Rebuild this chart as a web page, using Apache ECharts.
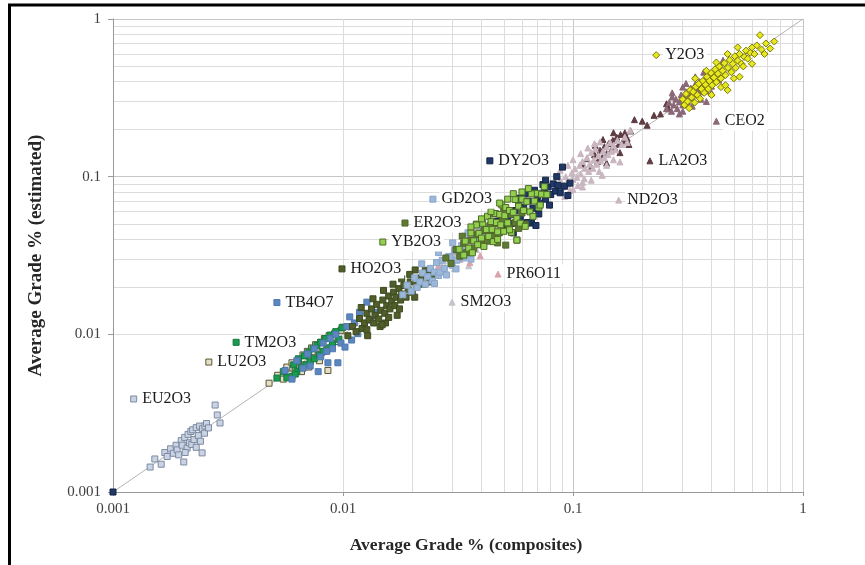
<!DOCTYPE html>
<html><head><meta charset="utf-8">
<script src="https://cdn.jsdelivr.net/npm/echarts@6/dist/echarts.min.js"></script>
<style>html,body{margin:0;padding:0;background:#fff}#c{width:865px;height:565px}</style>
</head><body><div id="c"></div>
<script>
const xTickLabels = ['0.001','0.01','0.1','1'];
const yTickLabels = ['0.001','0.01','0.1','1'];
const xTitle = 'Average Grade % (composites)';
const yTitle = 'Average Grade % (estimated)';

const seriesOrder = ['SM2O3','PR6O11','LA2O3','ND2O3','CEO2','Y2O3','EU2O3','LU2O3','TM2O3','TB4O7','HO2O3','GD2O3','DY2O3','ER2O3','YB2O3'];

const EU2O3 = [[0.00145,0.00144],[0.00152,0.00162],[0.00162,0.0015],[0.00168,0.00178],[0.00172,0.00168],[0.00178,0.00188],[0.00183,0.00176],[0.00188,0.00198],[0.0019,0.00185],[0.00193,0.00172],[0.00198,0.00212],[0.002,0.00198],[0.00203,0.00155],[0.00205,0.00222],[0.0021,0.0019],[0.00212,0.00232],[0.00215,0.00205],[0.00218,0.00242],[0.0022,0.002],[0.00222,0.00248],[0.00225,0.00215],[0.0023,0.00256],[0.0023,0.00192],[0.00235,0.00228],[0.00238,0.00262],[0.0024,0.0021],[0.00244,0.00177],[0.00245,0.00252],[0.0025,0.00236],[0.00251,0.00262],[0.00255,0.00272],[0.0026,0.00255],[0.00278,0.00356],[0.00284,0.00308],[0.00292,0.00274],[0.00206,0.00178]];
const LU2O3 = [[0.00477,0.0049],[0.0052,0.0055],[0.0055,0.0052],[0.0057,0.0062],[0.0059,0.0056],[0.006,0.0066],[0.0062,0.0059],[0.0064,0.0069],[0.0065,0.0062],[0.0067,0.0074],[0.0068,0.0064],[0.007,0.0078],[0.0072,0.0068],[0.0073,0.0082],[0.0075,0.0071],[0.0076,0.0086],[0.0078,0.0074],[0.008,0.0089],[0.0081,0.0077],[0.0083,0.0094],[0.0085,0.008],[0.0086,0.0059],[0.0087,0.0098],[0.009,0.0086],[0.0092,0.0101],[0.0095,0.009],[0.0098,0.0106],[0.01,0.0111],[0.0066,0.0058],[0.0071,0.0062],[0.0079,0.0068]];
const TM2O3 = [[0.00516,0.00528],[0.0057,0.0053],[0.0055,0.0058],[0.006,0.0054],[0.0061,0.0064],[0.0063,0.0058],[0.0064,0.007],[0.0066,0.0062],[0.0068,0.0073],[0.0069,0.0064],[0.0071,0.0077],[0.0072,0.0067],[0.0074,0.0081],[0.0075,0.007],[0.0077,0.0085],[0.0079,0.0074],[0.008,0.0089],[0.0082,0.0078],[0.0084,0.0094],[0.0086,0.0082],[0.0088,0.0099],[0.009,0.0087],[0.0093,0.0104],[0.0096,0.0093],[0.0062,0.0056],[0.0099,0.011]];
const TB4O7 = [[0.0056,0.0059],[0.006,0.0052],[0.0063,0.0068],[0.0067,0.0061],[0.007,0.0075],[0.0072,0.0063],[0.0075,0.0081],[0.0078,0.0058],[0.008,0.0072],[0.0082,0.0088],[0.0085,0.0078],[0.0086,0.0066],[0.0088,0.0094],[0.009,0.0081],[0.0093,0.01],[0.0095,0.0066],[0.0098,0.0088],[0.0102,0.0083],[0.0104,0.0112],[0.0107,0.0129],[0.0109,0.0092],[0.0112,0.0118],[0.0116,0.0101],[0.0127,0.016],[0.0132,0.0123],[0.0138,0.0138],[0.0118,0.0138]];
const HO2O3 = [[0.0105,0.0098],[0.011,0.0112],[0.0114,0.0104],[0.0118,0.0126],[0.0121,0.0109],[0.0124,0.0118],[0.0127,0.0136],[0.0127,0.0107],[0.013,0.0124],[0.0133,0.0145],[0.0136,0.0118],[0.0138,0.0132],[0.014,0.0155],[0.0143,0.0125],[0.0146,0.0142],[0.0149,0.0165],[0.0152,0.0136],[0.0153,0.0118],[0.0155,0.0152],[0.0158,0.0175],[0.016,0.0145],[0.0163,0.0162],[0.0166,0.0185],[0.0168,0.0152],[0.017,0.0172],[0.0172,0.0132],[0.0175,0.0195],[0.0178,0.0165],[0.018,0.018],[0.0184,0.0204],[0.0188,0.0172],[0.0192,0.0192],[0.0196,0.0215],[0.02,0.0185],[0.0206,0.0256],[0.021,0.0205],[0.0218,0.0228],[0.0225,0.0208],[0.0239,0.0215],[0.0245,0.0236],[0.0158,0.0128],[0.0145,0.0112],[0.012,0.0148],[0.0135,0.0168],[0.015,0.019],[0.0165,0.0208],[0.018,0.0225],[0.0195,0.024],[0.0128,0.0098],[0.0148,0.0115],[0.0176,0.0145],[0.0205,0.0172],[0.0228,0.0255]];
const GD2O3 = [[0.0182,0.0178],[0.019,0.0205],[0.0198,0.0188],[0.0205,0.0228],[0.021,0.0198],[0.0216,0.0215],[0.0222,0.0245],[0.0228,0.0208],[0.0234,0.0232],[0.024,0.0262],[0.0245,0.0218],[0.025,0.0248],[0.0255,0.0285],[0.026,0.0236],[0.0264,0.0248],[0.027,0.0295],[0.0276,0.0262],[0.0282,0.0238],[0.0288,0.0312],[0.0292,0.0309],[0.0298,0.0275],[0.0305,0.034],[0.0312,0.0295],[0.032,0.0328],[0.0328,0.0365],[0.0335,0.0305],[0.0345,0.0352],[0.0355,0.0398],[0.0365,0.0338],[0.0378,0.0412],[0.0394,0.0479],[0.0405,0.0445],[0.042,0.0465],[0.0438,0.0425],[0.022,0.028],[0.026,0.033],[0.03,0.038],[0.034,0.044],[0.025,0.021],[0.031,0.026],[0.036,0.03]];
const SM2O3 = [[0.0205,0.0198],[0.0218,0.0232],[0.023,0.0212],[0.0242,0.0255],[0.0255,0.0238],[0.0265,0.0282],[0.0275,0.0252],[0.0288,0.0305],[0.0298,0.0275],[0.031,0.0322],[0.0322,0.0298],[0.0335,0.0355],[0.0348,0.0318],[0.0352,0.0272],[0.0365,0.0378],[0.038,0.0345],[0.0395,0.0412],[0.041,0.0385],[0.043,0.0445],[0.0305,0.0262]];
const PR6O11 = [[0.026,0.0272],[0.0272,0.0258],[0.0285,0.031],[0.0298,0.0285],[0.031,0.0335],[0.0322,0.0302],[0.0335,0.0362],[0.0348,0.0325],[0.036,0.0392],[0.0372,0.0348],[0.0385,0.0418],[0.0398,0.037],[0.041,0.0445],[0.0425,0.0398],[0.044,0.0472],[0.0455,0.0425],[0.047,0.0495],[0.0356,0.0285],[0.0395,0.0315],[0.0392,0.0478],[0.0375,0.0455]];
const ER2O3 = [[0.028,0.0305],[0.0295,0.0282],[0.031,0.0345],[0.0322,0.0313],[0.0335,0.0378],[0.0345,0.033],[0.0358,0.0395],[0.037,0.0352],[0.0382,0.0428],[0.0395,0.0372],[0.041,0.0455],[0.0422,0.039],[0.0435,0.0488],[0.0448,0.0418],[0.046,0.0505],[0.0478,0.044],[0.0495,0.0535],[0.051,0.0368],[0.0525,0.0478],[0.054,0.0575],[0.056,0.051],[0.0571,0.0396],[0.06,0.0588],[0.033,0.042],[0.038,0.05],[0.045,0.058],[0.05,0.063],[0.058,0.047],[0.062,0.05],[0.047,0.038]];
const YB2O3 = [[0.032,0.0346],[0.0335,0.0318],[0.034,0.039],[0.0352,0.0352],[0.036,0.044],[0.0365,0.0329],[0.037,0.0392],[0.038,0.0494],[0.0385,0.037],[0.039,0.0437],[0.04,0.0408],[0.0405,0.0506],[0.041,0.0361],[0.042,0.0462],[0.0425,0.0561],[0.043,0.0417],[0.044,0.0519],[0.0445,0.0463],[0.045,0.0387],[0.046,0.0584],[0.0465,0.0512],[0.047,0.0447],[0.048,0.0576],[0.0485,0.0495],[0.049,0.0662],[0.05,0.045],[0.0505,0.0566],[0.051,0.0638],[0.052,0.051],[0.053,0.061],[0.054,0.0443],[0.055,0.0594],[0.056,0.0717],[0.057,0.0542],[0.058,0.065],[0.059,0.0507],[0.06,0.072],[0.061,0.061],[0.062,0.0484],[0.063,0.0693],[0.065,0.0598],[0.066,0.0779],[0.068,0.07],[0.07,0.0784],[0.071,0.0639],[0.073,0.0774],[0.075,0.0863],[0.077,0.077],[0.057,0.0396],[0.036,0.048],[0.04,0.054],[0.044,0.06],[0.048,0.068],[0.052,0.072],[0.055,0.078],[0.06,0.08],[0.064,0.084],[0.047,0.04],[0.053,0.046],[0.067,0.056],[0.072,0.066]];
const DY2O3 = [[0.001,0.001],[0.044,0.046],[0.047,0.052],[0.05,0.0475],[0.052,0.056],[0.054,0.0505],[0.056,0.061],[0.058,0.066],[0.059,0.0545],[0.061,0.064],[0.063,0.051],[0.064,0.07],[0.066,0.0508],[0.067,0.063],[0.069,0.049],[0.07,0.075],[0.072,0.068],[0.074,0.089],[0.075,0.08],[0.076,0.072],[0.078,0.086],[0.08,0.077],[0.082,0.09],[0.084,0.081],[0.086,0.088],[0.088,0.079],[0.09,0.115],[0.092,0.087],[0.095,0.076],[0.097,0.091],[0.064,0.0512],[0.055,0.044],[0.062,0.078],[0.068,0.082],[0.076,0.095],[0.085,0.1],[0.079,0.066],[0.071,0.058],[0.058,0.073]];
const ND2O3 = [[0.085,0.083],[0.088,0.095],[0.09,0.086],[0.093,0.1],[0.095,0.09],[0.097,0.082],[0.099,0.106],[0.1,0.096],[0.102,0.112],[0.104,0.099],[0.105,0.088],[0.107,0.118],[0.108,0.104],[0.11,0.125],[0.112,0.097],[0.113,0.113],[0.115,0.132],[0.117,0.108],[0.118,0.12],[0.12,0.142],[0.122,0.113],[0.123,0.128],[0.125,0.15],[0.127,0.12],[0.129,0.136],[0.131,0.166],[0.132,0.126],[0.134,0.102],[0.135,0.145],[0.137,0.132],[0.14,0.155],[0.142,0.138],[0.145,0.165],[0.147,0.145],[0.15,0.158],[0.153,0.148],[0.156,0.17],[0.16,0.124],[0.163,0.16],[0.168,0.178],[0.172,0.165],[0.177,0.197],[0.11,0.092],[0.088,0.11],[0.095,0.118],[0.1,0.128],[0.108,0.14],[0.116,0.152],[0.124,0.162],[0.1,0.083],[0.11,0.086],[0.12,0.095],[0.13,0.108],[0.14,0.118],[0.092,0.075],[0.15,0.128]];
const LA2O3 = [[0.11,0.12],[0.115,0.13],[0.12,0.115],[0.124,0.138],[0.128,0.125],[0.131,0.147],[0.134,0.132],[0.137,0.155],[0.14,0.14],[0.143,0.162],[0.146,0.146],[0.149,0.17],[0.152,0.152],[0.155,0.178],[0.158,0.16],[0.161,0.185],[0.165,0.168],[0.168,0.19],[0.172,0.175],[0.178,0.195],[0.185,0.23],[0.21,0.212],[0.225,0.245],[0.24,0.25],[0.255,0.29],[0.26,0.27],[0.2,0.225],[0.125,0.158],[0.135,0.172],[0.15,0.19],[0.14,0.122],[0.16,0.142],[0.175,0.16]];
const CEO2 = [[0.255,0.27],[0.262,0.295],[0.268,0.26],[0.274,0.285],[0.28,0.31],[0.284,0.27],[0.29,0.298],[0.295,0.33],[0.3,0.285],[0.305,0.318],[0.31,0.345],[0.315,0.3],[0.32,0.33],[0.325,0.365],[0.33,0.315],[0.335,0.348],[0.34,0.385],[0.345,0.33],[0.35,0.362],[0.355,0.4],[0.36,0.345],[0.367,0.38],[0.375,0.42],[0.38,0.35],[0.385,0.4],[0.39,0.44],[0.4,0.375],[0.41,0.42],[0.42,0.47],[0.43,0.41],[0.449,0.548],[0.44,0.5],[0.29,0.25],[0.38,0.3],[0.27,0.32],[0.3,0.37],[0.27,0.34],[0.31,0.39],[0.34,0.43],[0.37,0.46],[0.33,0.28],[0.36,0.31],[0.4,0.34],[0.3,0.26]];
const Y2O3 = [[0.3,0.31],[0.305,0.285],[0.31,0.335],[0.315,0.3],[0.32,0.272],[0.323,0.354],[0.328,0.318],[0.333,0.345],[0.338,0.295],[0.342,0.372],[0.347,0.33],[0.352,0.388],[0.357,0.312],[0.362,0.36],[0.367,0.405],[0.372,0.34],[0.377,0.383],[0.382,0.43],[0.387,0.36],[0.392,0.405],[0.398,0.455],[0.403,0.38],[0.41,0.425],[0.415,0.48],[0.42,0.398],[0.427,0.45],[0.433,0.5],[0.44,0.42],[0.447,0.47],[0.455,0.525],[0.46,0.44],[0.47,0.354],[0.472,0.49],[0.48,0.55],[0.488,0.46],[0.495,0.52],[0.505,0.58],[0.51,0.49],[0.52,0.545],[0.53,0.6],[0.54,0.52],[0.55,0.5],[0.555,0.575],[0.565,0.63],[0.575,0.56],[0.59,0.61],[0.6,0.66],[0.615,0.6],[0.63,0.68],[0.65,0.79],[0.66,0.64],[0.69,0.7],[0.72,0.65],[0.53,0.43],[0.44,0.37],[0.34,0.42],[0.38,0.47],[0.42,0.53],[0.47,0.6],[0.52,0.66],[0.4,0.33],[0.46,0.38],[0.5,0.42],[0.6,0.52],[0.68,0.6],[0.75,0.72]];

// the single labelled point of each series
const labelPoints = {
  Y2O3:[0.23,0.59], CEO2:[0.42,0.225], LA2O3:[0.216,0.126], ND2O3:[0.158,0.071],
  DY2O3:[0.0435,0.126], GD2O3:[0.0246,0.072], ER2O3:[0.0186,0.0508], YB2O3:[0.0149,0.0385],
  HO2O3:[0.0099,0.026], PR6O11:[0.0472,0.0241], SM2O3:[0.0298,0.016], TB4O7:[0.00516,0.0159],
  TM2O3:[0.00343,0.0089], LU2O3:[0.00261,0.00667], EU2O3:[0.00123,0.00389]
};
const seriesData = {EU2O3,LU2O3,TM2O3,TB4O7,HO2O3,GD2O3,SM2O3,PR6O11,ER2O3,YB2O3,DY2O3,ND2O3,LA2O3,CEO2,Y2O3};
const diagonal = [[0.001,0.001],[1,1]];

// styles
const styles = {
  Y2O3:{symbol:'diamond', size:7, color:'#e8e820', border:'#7a7a00'},
  CEO2:{symbol:'triangle', size:6, color:'#8a6878', border:'#8a6878'},
  LA2O3:{symbol:'triangle', size:6, color:'#5e3c42', border:'#5e3c42'},
  ND2O3:{symbol:'triangle', size:6, color:'#c9b6c0', border:'#c9b6c0'},
  PR6O11:{symbol:'triangle', size:6, color:'#d9a3ab', border:'#d9a3ab'},
  SM2O3:{symbol:'triangle', size:6, color:'#c4c2cc', border:'#c4c2cc'},
  DY2O3:{symbol:'rect', size:6, color:'#1f3864', border:'#14254a'},
  GD2O3:{symbol:'rect', size:6, color:'#9bb7da', border:'#8aa6cb'},
  ER2O3:{symbol:'rect', size:6, color:'#5f7a33', border:'#4f6428'},
  YB2O3:{symbol:'rect', size:6, color:'#92d050', border:'#4f6a28'},
  HO2O3:{symbol:'rect', size:6, color:'#4f5e2a', border:'#3f4b20'},
  TB4O7:{symbol:'rect', size:6, color:'#5b86c0', border:'#4f78b0'},
  TM2O3:{symbol:'rect', size:6, color:'#1a9a50', border:'#137a3e'},
  LU2O3:{symbol:'rect', size:6, color:'#e4e0c8', border:'#5a5530'},
  EU2O3:{symbol:'rect', size:6, color:'#c9d3e3', border:'#7d8ba3'}
};
const serif = "'Liberation Serif','Times New Roman',serif";

const minorVals = [];
[-3,-2,-1].forEach(e => { for (let m = 2; m <= 9; m++) minorVals.push(Number((m*Math.pow(10,e)).toPrecision(2))); });

const labelStyle = (name) => ({
  show:true, formatter:name, position:'right', distance:3,
  fontFamily:serif, fontSize:16, color:'#1a1a1a',
  backgroundColor:'#ffffff', padding:[2,3,1,2]
});

const series = [];
series.push({
  type:'line', data:[[0.001,0.001]], showSymbol:false, silent:true, z:0, animation:false,
  lineStyle:{opacity:0},
  markLine:{
    z:0, silent:true, symbol:['none','none'], animation:false,
    label:{show:false},
    lineStyle:{type:'solid', color:'#dcdcdc', width:1},
    data: minorVals.map(v => ({xAxis:v})).concat(minorVals.map(v => ({yAxis:v})))
  }
});
series.push({
  type:'line', data:diagonal, showSymbol:false, silent:true, z:2, animation:false,
  lineStyle:{color:'#b4b4b4', width:1}
});
seriesOrder.forEach(name => {
  const st = styles[name];
  const data = seriesData[name].map(p => ({value:p}));
  data.push({value:labelPoints[name], label:labelStyle(name)});
  series.push({
    name, type:'scatter', z:3, animation:false,
    symbol:st.symbol, symbolSize:st.size,
    itemStyle:{color:st.color, borderColor:st.border, borderWidth:1, opacity:1},
    label:{show:false},
    data
  });
});

const fmt = (labels) => (v) => {
  const s = String(Number(Number(v).toPrecision(3)));
  return labels.indexOf(s) >= 0 ? s : '';
};

const chart = echarts.init(document.getElementById('c'), null, {renderer:'canvas'});
chart.setOption({
  backgroundColor:'#ffffff',
  animation:false,
  grid:{left:113, right:62, top:19, bottom:73, containLabel:false},
  xAxis:{
    type:'log', logBase:10, min:0.001, max:1,
    name:xTitle, nameLocation:'middle', nameGap:44,
    nameTextStyle:{fontFamily:serif, fontWeight:'bold', fontSize:17.5, color:'#262626', padding:[0,0,0,16]},
    axisLine:{lineStyle:{color:'#9a9a9a'}},
    axisTick:{show:true, length:4, lineStyle:{color:'#9a9a9a'}},
    axisLabel:{formatter:fmt(xTickLabels), fontFamily:serif, fontSize:15, color:'#404040', margin:10},
    splitLine:{show:true, lineStyle:{color:'#c6c6c6', width:1}}
  },
  yAxis:{
    type:'log', logBase:10, min:0.001, max:1,
    name:yTitle, nameLocation:'middle', nameGap:67, nameRotate:90,
    nameTextStyle:{fontFamily:serif, fontWeight:'bold', fontSize:19, color:'#262626'},
    axisLine:{show:true, lineStyle:{color:'#9a9a9a'}},
    axisTick:{show:true, length:5, lineStyle:{color:'#9a9a9a'}},
    axisLabel:{formatter:fmt(yTickLabels), fontFamily:serif, fontSize:15, color:'#404040', margin:12},
    splitLine:{show:true, lineStyle:{color:'#c6c6c6', width:1}}
  },
  graphic:[
    {type:'line', shape:{x1:8, y1:5, x2:865, y2:5}, style:{stroke:'#000', lineWidth:3}, z:100},
    {type:'line', shape:{x1:9.5, y1:4, x2:9.5, y2:565}, style:{stroke:'#000', lineWidth:3}, z:100}
  ],
  series
});
</script></body></html>
